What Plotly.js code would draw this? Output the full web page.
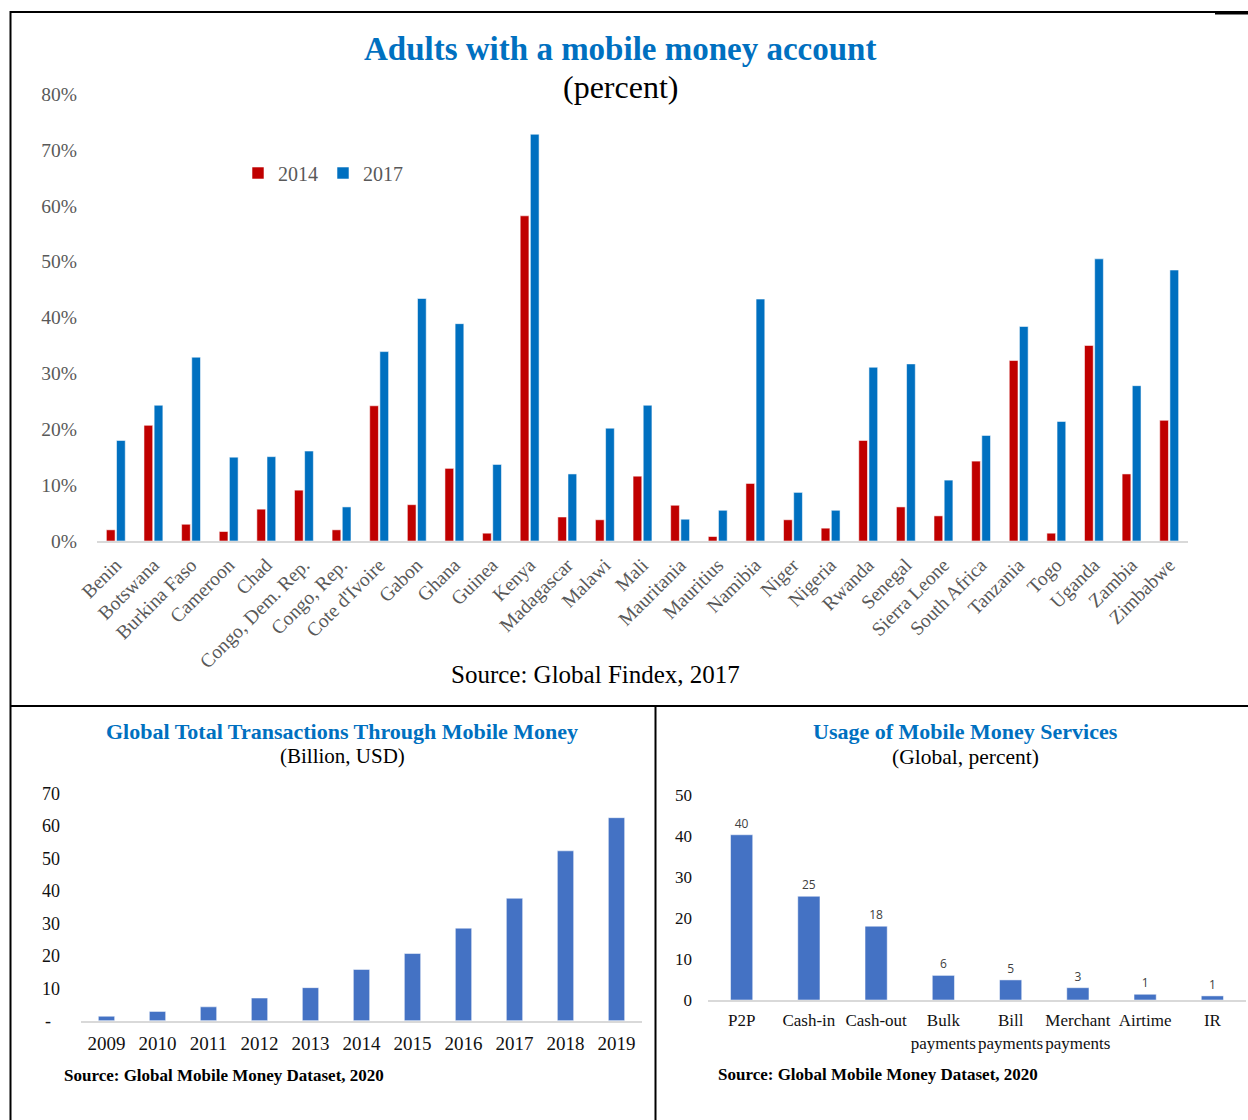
<!DOCTYPE html>
<html>
<head>
<meta charset="utf-8">
<script src="https://cdn.plot.ly/plotly-3.0.1.min.js"></script>
<style>
  html, body { margin: 0; padding: 0; background: #fff; }
  #chart { width: 1248px; height: 1120px; }
</style>
</head>
<body>
<div id="chart"></div>
<script>
// ---------- Data ----------
const countries = ["Benin","Botswana","Burkina Faso","Cameroon","Chad","Congo, Dem. Rep.","Congo, Rep.","Cote d'Ivoire","Gabon","Ghana","Guinea","Kenya","Madagascar","Malawi","Mali","Mauritania","Mauritius","Namibia","Niger","Nigeria","Rwanda","Senegal","Sierra Leone","South Africa","Tanzania","Togo","Uganda","Zambia","Zimbabwe"];
const account2014 = [0.020,0.207,0.030,0.017,0.057,0.091,0.020,0.242,0.065,0.130,0.014,0.582,0.043,0.038,0.116,0.064,0.008,0.103,0.038,0.023,0.180,0.061,0.045,0.143,0.323,0.014,0.350,0.120,0.216];
const account2017 = [0.180,0.243,0.329,0.150,0.151,0.161,0.061,0.339,0.434,0.389,0.137,0.728,0.120,0.202,0.243,0.039,0.055,0.433,0.087,0.055,0.311,0.317,0.109,0.189,0.384,0.214,0.505,0.278,0.485];
const seriesNames = ["2014","2017"];
const pctTicks = [0,0.1,0.2,0.3,0.4,0.5,0.6,0.7,0.8];

const years = ["2009","2010","2011","2012","2013","2014","2015","2016","2017","2018","2019"];
const transactions = [1.4,2.9,4.3,7.0,10.2,15.8,20.7,28.5,37.7,52.3,62.5];
const transTicks = [0,10,20,30,40,50,60,70];
const transTickText = ["-\u00a0\u00a0","10","20","30","40","50","60","70"];

const services = ["P2P","Cash-in","Cash-out","Bulk<br>payments","Bill<br>payments","Merchant<br>payments","Airtime","IR"];
const usage = [40.3,25.3,18.0,6.0,4.9,3.0,1.4,1.0];
const usageTicks = [0,10,20,30,40,50];

// ---------- Helpers ----------
const W = 1248, H = 1120;
const px = x => x / W;
const py = y => 1 - y / H;
const SERIF = "Liberation Serif, Times New Roman, serif";

const traces = [
  {
    type: "bar", name: seriesNames[0], x: countries, y: account2014,
    marker: { color: "#C00000", line: { color: "rgba(255,255,255,0.55)", width: 1 } },
    xaxis: "x", yaxis: "y", hoverinfo: "x+y"
  },
  {
    type: "bar", name: seriesNames[1], x: countries, y: account2017,
    marker: { color: "#0070C0", line: { color: "rgba(255,255,255,0.55)", width: 1 } },
    xaxis: "x", yaxis: "y", hoverinfo: "x+y"
  },
  {
    type: "bar", name: "Transactions", x: years, y: transactions, showlegend: false,
    marker: { color: "#4472C4", line: { color: "rgba(255,255,255,0.5)", width: 1 } },
    xaxis: "x2", yaxis: "y2", width: 0.32
  },
  {
    type: "bar", name: "Usage", x: services, y: usage, showlegend: false,
    marker: { color: "#4472C4", line: { color: "rgba(255,255,255,0.5)", width: 1 } },
    xaxis: "x3", yaxis: "y3", width: 0.33,
    texttemplate: "%{y:.0f}", textposition: "outside", cliponaxis: false,
    outsidetextfont: { family: "Open Sans, Liberation Sans, sans-serif", size: 12, color: "#404040" },
    constraintext: "none"
  }
];

const axisLine = { showline: true, linecolor: "#d9d9d9", linewidth: 2, showgrid: false, zeroline: false, ticks: "", automargin: false, fixedrange: true };

const layout = {
  width: W, height: H,
  margin: { l: 0, r: 0, t: 0, b: 0 },
  paper_bgcolor: "#ffffff", plot_bgcolor: "rgba(0,0,0,0)",
  showlegend: true,
  barmode: "group", bargap: 0.46, bargroupgap: 0.14,
  font: { family: SERIF, color: "#000" },
  legend: {
    orientation: "h", x: px(238), y: py(173), xanchor: "left", yanchor: "middle",
    font: { family: SERIF, size: 20, color: "#595959" },
    itemwidth: 30, tracegroupgap: 0, bgcolor: "rgba(0,0,0,0)"
  },
  xaxis: Object.assign({}, axisLine, {
    domain: [px(97), px(1188)], anchor: "y", type: "category",
    tickangle: -45, tickfont: { family: SERIF, size: 19.5, color: "#595959" }, ticklabelstandoff: 3
  }),
  yaxis: {
    domain: [py(541), py(94)], anchor: "x", range: [0, 0.8],
    tickvals: pctTicks, tickformat: ".0%", showgrid: false, zeroline: false, showline: false, ticks: "",
    tickfont: { family: SERIF, size: 19.5, color: "#595959" }, ticklabelstandoff: 19, automargin: false, fixedrange: true
  },
  xaxis2: Object.assign({}, axisLine, {
    domain: [px(81), px(642)], anchor: "y2", type: "category", tickangle: 0,
    tickfont: { family: SERIF, size: 19, color: "#111" }, ticklabelstandoff: 4
  }),
  yaxis2: {
    domain: [py(1020.8), py(793.3)], anchor: "x2", range: [0, 70],
    tickvals: transTicks, ticktext: transTickText, showgrid: false, zeroline: false, showline: false, ticks: "",
    tickfont: { family: SERIF, size: 18, color: "#111" }, ticklabelstandoff: 20, automargin: false, fixedrange: true
  },
  xaxis3: Object.assign({}, axisLine, {
    domain: [px(708), px(1246)], anchor: "y3", type: "category", tickangle: 0,
    tickfont: { family: SERIF, size: 17, color: "#111" }, ticklabelstandoff: 4
  }),
  yaxis3: {
    domain: [py(1000), py(795)], anchor: "x3", range: [0, 50],
    tickvals: usageTicks, showgrid: false, zeroline: false, showline: false, ticks: "",
    tickfont: { family: SERIF, size: 17, color: "#111" }, ticklabelstandoff: 15, automargin: false, fixedrange: true
  },
  annotations: [
    { text: "<b>Adults with a mobile money account</b>", x: px(620), y: py(49), xref: "paper", yref: "paper",
      xanchor: "center", yanchor: "middle", showarrow: false, font: { family: SERIF, size: 33, color: "#0070C0" } },
    { text: "(percent)", x: px(620), y: py(87), xref: "paper", yref: "paper",
      xanchor: "center", yanchor: "middle", showarrow: false, font: { family: SERIF, size: 32, color: "#000" } },
    { text: "Source: Global Findex, 2017", x: px(595), y: py(674), xref: "paper", yref: "paper",
      xanchor: "center", yanchor: "middle", showarrow: false, font: { family: SERIF, size: 25, color: "#000" } },
    { text: "<b>Global Total Transactions Through Mobile Money</b>", x: px(342), y: py(731), xref: "paper", yref: "paper",
      xanchor: "center", yanchor: "middle", showarrow: false, font: { family: SERIF, size: 22, color: "#0070C0" } },
    { text: "(Billion, USD)", x: px(342), y: py(756), xref: "paper", yref: "paper",
      xanchor: "center", yanchor: "middle", showarrow: false, font: { family: SERIF, size: 21, color: "#000" } },
    { text: "<b>Usage of Mobile Money Services</b>", x: px(965), y: py(731), xref: "paper", yref: "paper",
      xanchor: "center", yanchor: "middle", showarrow: false, font: { family: SERIF, size: 22, color: "#0070C0" } },
    { text: "(Global, percent)", x: px(965), y: py(757), xref: "paper", yref: "paper",
      xanchor: "center", yanchor: "middle", showarrow: false, font: { family: SERIF, size: 21.5, color: "#000" } },
    { text: "<b>Source: Global Mobile Money Dataset, 2020</b>", x: px(62), y: py(1075), xref: "paper", yref: "paper",
      xanchor: "left", yanchor: "middle", showarrow: false, font: { family: SERIF, size: 17, color: "#000" } },
    { text: "<b>Source: Global Mobile Money Dataset, 2020</b>", x: px(716), y: py(1074), xref: "paper", yref: "paper",
      xanchor: "left", yanchor: "middle", showarrow: false, font: { family: SERIF, size: 17, color: "#000" } }
  ],
  shapes: [
    { type: "line", xref: "paper", yref: "paper", x0: px(10), x1: px(1248), y0: py(12), y1: py(12), line: { color: "#000", width: 2 } },
    { type: "rect", xref: "paper", yref: "paper", x0: px(1215), x1: px(1248), y0: py(11), y1: py(14.5), line: { width: 0 }, fillcolor: "#000" },
    { type: "line", xref: "paper", yref: "paper", x0: px(10.5), x1: px(10.5), y0: py(11), y1: py(1120), line: { color: "#000", width: 2 } },
    { type: "line", xref: "paper", yref: "paper", x0: px(10), x1: px(1248), y0: py(706), y1: py(706), line: { color: "#000", width: 2 } },
    { type: "line", xref: "paper", yref: "paper", x0: px(655.5), x1: px(655.5), y0: py(705), y1: py(1120), line: { color: "#000", width: 2 } }
  ]
};

Plotly.newPlot("chart", traces, layout, { displayModeBar: false, staticPlot: true });
</script>
</body>
</html>
